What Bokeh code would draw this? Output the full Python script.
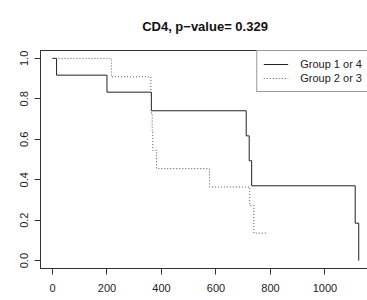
from bokeh.plotting import figure
from bokeh.models import Range1d, FixedTicker, PrintfTickFormatter, Legend, LegendItem, Title
from bokeh.embed import file_html
from bokeh.resources import INLINE

# Kaplan-Meier step data
g14_time = [0, 15, 200, 363, 711, 722, 731, 1111, 1124]
g14_surv = [1.0, 0.917, 0.833, 0.741, 0.617, 0.494, 0.370, 0.185, 0.0]

g23_time = [0, 216, 361, 363, 366, 368, 382, 576, 724, 739, 790]
g23_surv = [1.0, 0.909, 0.818, 0.727, 0.636, 0.545, 0.455, 0.364, 0.273, 0.136, 0.136]

x_ticks = [0, 200, 400, 600, 800, 1000]
y_ticks = [0.0, 0.2, 0.4, 0.6, 0.8, 1.0]

title_text = "CD4, p\u2212value= 0.329"
labels = ["Group 1 or 4", "Group 2 or 3"]

FONT = "Liberation Sans"

p = figure(width=369, height=300, output_backend="svg", toolbar_location=None,
           x_range=Range1d(-44, 1163.5), y_range=Range1d(-0.039, 1.039),
           min_border_left=40, min_border_right=0, min_border_top=47, min_border_bottom=32)
p.title = Title(text=title_text, align="center", text_font=FONT, text_font_size="13px",
                text_font_style="bold", text_color="#111111", standoff=33)

p.xgrid.visible = False
p.ygrid.visible = False
p.outline_line_color = "#333333"
p.outline_line_width = 1
p.background_fill_color = "white"
p.border_fill_color = "white"

for ax in (p.xaxis[0], p.yaxis[0]):
    ax.axis_line_color = "#333333"
    ax.major_tick_line_color = "#333333"
    ax.major_tick_out = 6
    ax.major_tick_in = 0
    ax.minor_tick_line_color = None
    ax.major_label_text_font = FONT
    ax.major_label_text_font_size = "11px"
    ax.major_label_text_color = "#222222"

p.xaxis[0].ticker = FixedTicker(ticks=x_ticks)
p.xaxis[0].major_label_standoff = 9
p.yaxis[0].ticker = FixedTicker(ticks=y_ticks)
p.yaxis[0].formatter = PrintfTickFormatter(format="%.1f")
p.yaxis[0].major_label_orientation = "vertical"
p.yaxis[0].major_label_standoff = 6

r1 = p.step(g14_time, g14_surv, mode="after", line_color="#222222", line_width=1)
r2 = p.step(g23_time, g23_surv, mode="after", line_color="#555555", line_width=1, line_dash="1 2")

legend = Legend(items=[LegendItem(label=labels[0], renderers=[r1]),
                       LegendItem(label=labels[1], renderers=[r2])],
                location="top_right", margin=0, padding=6, spacing=0,
                glyph_width=25, glyph_height=14, label_height=14,
                label_standoff=12, label_text_font=FONT, label_text_font_size="11px",
                label_text_color="#222222", border_line_color="#333333",
                border_line_width=1, background_fill_alpha=1.0)
p.add_layout(legend)

open("out.html", "w").write(file_html(p, INLINE))
